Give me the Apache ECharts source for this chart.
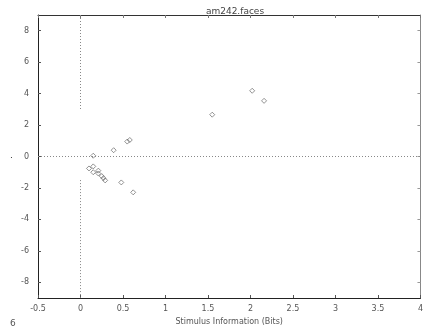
<!DOCTYPE html>
<html>
<head>
<meta charset="utf-8">
<script src="https://cdn.jsdelivr.net/npm/echarts@6/dist/echarts.min.js"></script>
<style>
html,body{margin:0;padding:0;background:#fff;}
#chart{width:426px;height:333px;}
</style>
</head>
<body>
<div id="chart"></div>
<script>
// 数据
var xTicks = [-0.5, 0, 0.5, 1, 1.5, 2, 2.5, 3, 3.5, 4];
var yTicks = [-8, -6, -4, -2, 0, 2, 4, 6, 8];
var infoX = [0.15, 0.39, 0.55, 0.58, 1.55, 2.02, 2.16, 0.10, 0.15, 0.15, 0.21, 0.21, 0.25, 0.27, 0.29, 0.48, 0.62];
var infoY = [0.05, 0.40, 0.95, 1.05, 2.66, 4.18, 3.54, -0.76, -0.63, -1.00, -0.90, -1.08, -1.25, -1.38, -1.52, -1.65, -2.28];

var points = [];
for (var i = 0; i < infoX.length; i++) {
	points.push([infoX[i], infoY[i]]);
}

var myChart = echarts.init(document.getElementById('chart'));
var txtColor = '#555';
myChart.setOption({
	animation: false,
	title: {
		text: 'am242.faces',
		left: 230,
		top: 2,
		textAlign: 'center',
		textStyle: { color: '#444', fontSize: 9, fontWeight: 'normal', fontFamily: 'DejaVu Sans' }
	},
	grid: { left: 38, right: 4, top: 15, bottom: 35 },
	xAxis: [{
		type: 'value',
		min: -0.5, max: 4, interval: 0.5,
		name: 'Stimulus Information (Bits)',
		nameLocation: 'middle',
		nameGap: 19,
		nameTextStyle: { color: txtColor, fontSize: 8, fontFamily: 'DejaVu Sans' },
		axisLine: { onZero: false, lineStyle: { color: '#222', width: 1 } },
		axisTick: { inside: true, length: 3, lineStyle: { color: '#555' } },
		axisLabel: { color: txtColor, fontSize: 8, margin: 7, fontFamily: 'DejaVu Sans',
			customValues: xTicks,
			formatter: function (v) { return String(v); } },
		splitLine: { show: false }
	}, {
		type: 'value', position: 'top',
		min: -0.5, max: 4, interval: 0.5,
		axisLine: { onZero: false, lineStyle: { color: '#333', width: 1 } },
		axisTick: { inside: true, length: 3, lineStyle: { color: '#777' } },
		axisLabel: { show: false },
		splitLine: { show: false }
	}],
	yAxis: [{
		type: 'value',
		min: -9, max: 9, interval: 1,
		axisLine: { onZero: false, lineStyle: { color: '#222', width: 1 } },
		axisTick: { inside: true, length: 3, customValues: yTicks, lineStyle: { color: '#555' } },
		axisLabel: { color: txtColor, fontSize: 8, margin: 9, fontFamily: 'DejaVu Sans', customValues: yTicks },
		splitLine: { show: false }
	}, {
		type: 'value', position: 'right',
		min: -9, max: 9, interval: 1,
		axisLine: { onZero: false, lineStyle: { color: '#888', width: 1 } },
		axisTick: { inside: true, length: 3, customValues: yTicks, lineStyle: { color: '#999' } },
		axisLabel: { show: false },
		splitLine: { show: false }
	}],
	graphic: [
		{ type: 'text', left: 10, top: 151, style: { text: '.', fill: '#333', font: '9px DejaVu Sans' } },
		{ type: 'text', left: 10, top: 319, style: { text: '6', fill: '#555', font: '9px DejaVu Sans' } }
	],
	series: [{
		type: 'scatter',
		data: points,
		symbol: 'diamond',
		symbolSize: 5,
		itemStyle: { color: 'rgba(0,0,0,0)', borderColor: '#555', borderWidth: 0.8 },
		markLine: {
			silent: true,
			symbol: 'none',
			label: { show: false },
			lineStyle: { color: '#888', type: [1, 2], width: 1 },
			data: [
				[{ coord: [-0.5, 0] }, { coord: [4, 0] }],
				[{ coord: [0, 9] }, { coord: [0, 3] }],
				[{ coord: [0, -1.5] }, { coord: [0, -9] }]
			]
		}
	}]
});
</script>
</body>
</html>
